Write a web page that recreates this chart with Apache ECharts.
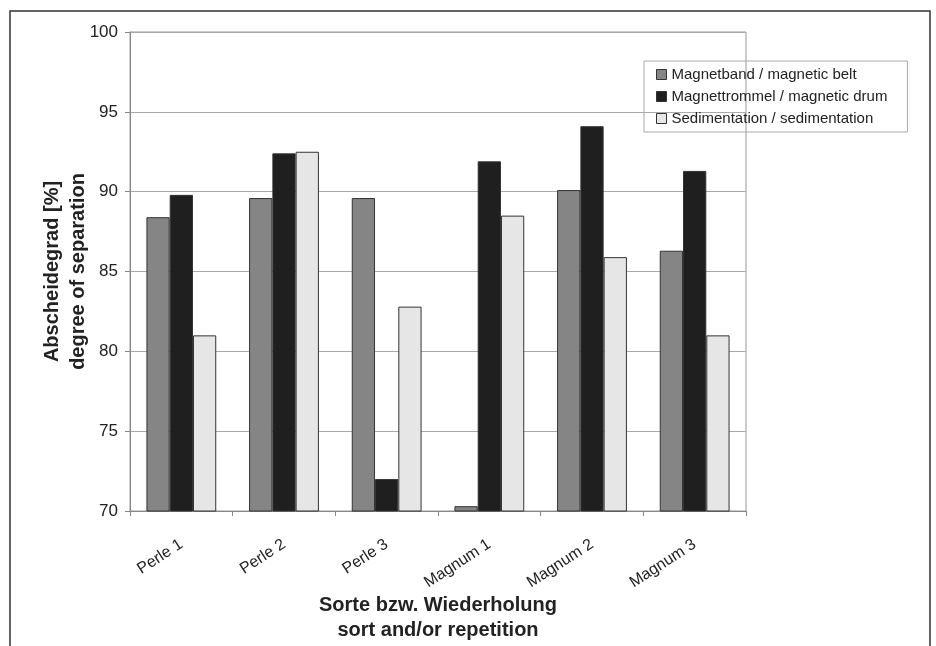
<!DOCTYPE html>
<html>
<head>
<meta charset="utf-8">
<script src="https://cdn.jsdelivr.net/npm/echarts@6/dist/echarts.min.js"></script>
<style>
	html, body { margin: 0; padding: 0; background: #fff; }
	#chart { width: 936px; height: 646px; }
</style>
</head>
<body>
<div id="chart"></div>
<script>
var categories = ['Perle 1', 'Perle 2', 'Perle 3', 'Magnum 1', 'Magnum 2', 'Magnum 3'];
var seriesNames = ['Magnetband / magnetic belt', 'Magnettrommel / magnetic drum', 'Sedimentation / sedimentation'];
var beltValues  = [88.4, 89.6, 89.6, 70.3, 90.1, 86.3];
var drumValues  = [89.8, 92.4, 72.0, 91.9, 94.1, 91.3];
var sedimValues = [81.0, 92.5, 82.8, 88.5, 85.9, 81.0];
var yTicks = [70, 75, 80, 85, 90, 95, 100];

var FONT = '"Liberation Sans", Arial, sans-serif';
var colors = ['#858585', '#1f1f1f', '#e6e6e6'];

var chart = echarts.init(document.getElementById('chart'));

function barSeries(name, data, color) {
	return {
		name: name, type: 'bar', data: data,
		barGap: '0%', barCategoryGap: '32%',
		itemStyle: { color: color, borderColor: '#333', borderWidth: 1 }
	};
}

chart.setOption({
	animation: false,
	textStyle: { fontFamily: FONT },
	graphic: [{
		type: 'rect', shape: { x: 10, y: 11, width: 920, height: 700 },
		style: { fill: 'none', stroke: '#333', lineWidth: 1.5 }, silent: true
	}],
	legend: {
		orient: 'vertical', left: 644, top: 61,
		itemWidth: 10, itemHeight: 10, itemGap: 7,
		padding: [6, 20, 6, 12],
		borderColor: '#aaa', borderWidth: 1,
		textStyle: { fontSize: 15, color: '#222', fontFamily: FONT },
		data: seriesNames.map(function (n) {
			return { name: n, icon: 'rect', itemStyle: { borderColor: '#333', borderWidth: 1 } };
		})
	},
	grid: {
		left: 130, right: 190, top: 32, bottom: 135, outerBoundsMode: 'none',
		show: true, borderColor: '#999', borderWidth: 1
	},
	xAxis: {
		type: 'category', data: categories,
		axisLine: { lineStyle: { color: '#888' } },
		axisTick: { show: true, length: 5, lineStyle: { color: '#888' } },
		axisLabel: { rotate: 33, margin: 32, fontSize: 16, color: '#222', fontFamily: FONT },
		name: 'Sorte bzw. Wiederholung\nsort and/or repetition',
		nameLocation: 'middle', nameGap: 82, nameMoveOverlap: false,
		nameTextStyle: { fontSize: 20, fontWeight: 'bold', color: '#222', lineHeight: 25, fontFamily: FONT }
	},
	yAxis: {
		type: 'value', min: 70, max: 100, interval: 5,
		axisLine: { show: true, lineStyle: { color: '#888' } },
		axisTick: { show: true, length: 5, lineStyle: { color: '#888' } },
		axisLabel: {
			fontSize: 17, color: '#222', margin: 12, fontFamily: FONT,
			formatter: function (v) { return yTicks.indexOf(v) >= 0 ? String(v) : ''; }
		},
		splitLine: { lineStyle: { color: '#aaa' } },
		name: 'Abscheidegrad [%]\ndegree of separation',
		nameLocation: 'middle', nameRotate: 90, nameGap: 39, nameMoveOverlap: false,
		nameTextStyle: { fontSize: 20, fontWeight: 'bold', color: '#222', lineHeight: 26, fontFamily: FONT }
	},
	series: [
		barSeries(seriesNames[0], beltValues, colors[0]),
		barSeries(seriesNames[1], drumValues, colors[1]),
		barSeries(seriesNames[2], sedimValues, colors[2])
	]
});
</script>
</body>
</html>
